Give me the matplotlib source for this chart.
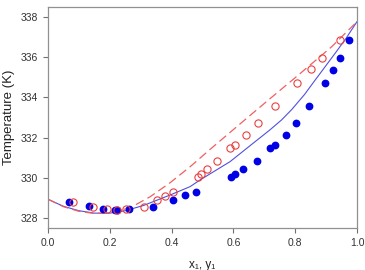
import matplotlib
matplotlib.use("Agg")
import matplotlib.pyplot as plt

plt.rcParams['font.family'] = ['Liberation Sans', 'DejaVu Sans']

# Experimental liquid (x1) data - filled blue
x_exp = [0.069, 0.133, 0.179, 0.216, 0.224, 0.263, 0.339, 0.406, 0.444, 0.479,
         0.591, 0.605, 0.630, 0.675, 0.717, 0.736, 0.769, 0.804, 0.846, 0.897,
         0.923, 0.945, 0.974]
T_x_exp = [328.81, 328.60, 328.46, 328.40, 328.40, 328.45, 328.53, 328.90, 329.13, 329.29,
           330.05, 330.19, 330.45, 330.85, 331.48, 331.65, 332.14, 332.73, 333.57, 334.70,
           335.38, 335.96, 336.87]

# Experimental vapour (y1) data - open red
y_exp = [0.082, 0.145, 0.190, 0.222, 0.252, 0.311, 0.354, 0.380, 0.406, 0.484,
         0.496, 0.513, 0.548, 0.589, 0.606, 0.642, 0.680, 0.735, 0.806, 0.850,
         0.888, 0.946]
T_y_exp = [328.80, 328.56, 328.46, 328.40, 328.45, 328.53, 328.90, 329.11, 329.29, 330.05,
           330.19, 330.44, 330.85, 331.48, 331.65, 332.14, 332.73, 333.59, 334.72, 335.40,
           335.96, 336.87]

# Model bubble curve (T-x), solid blue
x_calc = [0.0, 0.05, 0.10, 0.15, 0.20, 0.25, 0.309, 0.395, 0.460, 0.492, 0.589,
          0.664, 0.718, 0.756, 0.789, 0.83, 0.864, 0.929, 0.965, 1.0]
T_x_calc = [328.93, 328.58, 328.36, 328.24, 328.24, 328.36, 328.62, 329.14, 329.56, 329.89,
            330.80, 331.72, 332.38, 332.88, 333.40, 334.14, 334.85, 336.19, 336.95, 337.77]

# Model dew curve (T-y), dashed red
y_calc = [0.0, 0.05, 0.10, 0.15, 0.20, 0.265, 0.330, 0.395, 0.460, 0.535, 0.643,
          0.718, 0.810, 0.918, 1.0]
T_y_calc = [328.93, 328.56, 328.33, 328.22, 328.26, 328.50, 329.05, 329.75, 330.55, 331.55,
            332.96, 333.93, 335.11, 336.52, 337.77]

xticks = [0.0, 0.2, 0.4, 0.6, 0.8, 1.0]
yticks = [328, 330, 332, 334, 336, 338]

fig = plt.figure(figsize=(3.65, 2.7), dpi=100)
ax = fig.add_axes([0.1315, 0.1556, 0.8465, 0.8184])

ax.plot(x_calc, T_x_calc, '-', color='#5050e0', lw=0.8)
ax.plot(y_calc, T_y_calc, '--', color='#f06060', lw=0.9, dashes=(7, 3.5))
ax.plot(x_exp, T_x_exp, 'o', color='#0000e6', ms=4.6, mec='#0000e6')
ax.plot(y_exp, T_y_exp, 'o', mfc='none', mec='#e84040', ms=5.2, mew=0.8)

ax.set_xlim(0, 1.0)
ax.set_ylim(327.5, 338.5)
ax.set_xticks(xticks)
ax.set_xticklabels([f"{t:.1f}" for t in xticks])
ax.set_yticks(yticks)
ax.set_yticklabels([str(t) for t in yticks])
ax.tick_params(direction='out', length=3.5, width=0.8, color='#707070',
               labelsize=7.5, labelcolor='#333333', top=False, right=False)
for s in ax.spines.values():
    s.set_color('#909090')
    s.set_linewidth(0.9)
ax.set_xlabel('x\u2081, y\u2081', fontsize=8.5, color='#222222')
ax.xaxis.set_label_coords(0.5, -0.14)
ax.set_ylabel('Temperature (K)', fontsize=9.5, color='#222222')
ax.yaxis.set_label_coords(-0.108, 0.5)

fig.savefig('out.png', dpi=100)
